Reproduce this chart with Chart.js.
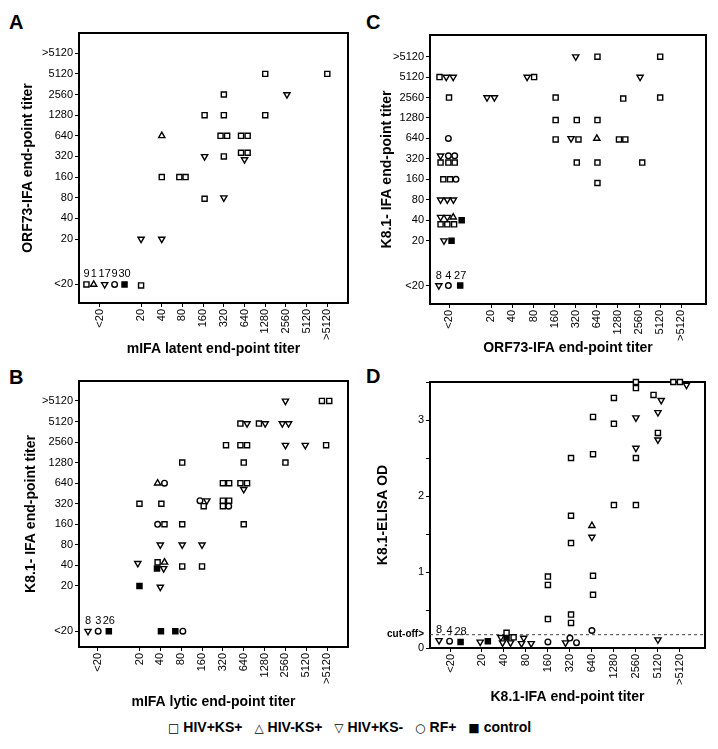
<!DOCTYPE html>
<html>
<head>
<meta charset="utf-8">
<script src="https://cdn.jsdelivr.net/npm/chart.js@4.4.0/dist/chart.umd.min.js"></script>
<style>
  body { margin: 0; background: #fff; width: 718px; height: 749px; position: relative; overflow: hidden;
         font-family: "Liberation Sans", Arial, sans-serif; color: #000; }
  canvas { position: absolute; }
  .tag { position: absolute; font-weight: bold; font-size: 20px; line-height: 20px; }
  #legend { position: absolute; left: 168px; top: 719px; font-weight: bold; font-size: 14px; line-height: 16px; white-space: nowrap; }
  #legend span.item { margin-right: 8px; }
  #legend span.sym { font-weight: normal; font-size: 12px; font-family: "DejaVu Sans", sans-serif; margin-right: 4px; }
</style>
</head>
<body>
<div class="tag" style="left:9px;top:12px">A</div>
<div class="tag" style="left:366px;top:12px">C</div>
<div class="tag" style="left:9px;top:367px">B</div>
<div class="tag" style="left:366px;top:366px">D</div>

<canvas id="panelA" width="359" height="362" style="left:0;top:0"></canvas>
<canvas id="panelC" width="359" height="362" style="left:359px;top:0"></canvas>
<canvas id="panelB" width="359" height="353" style="left:0;top:362px"></canvas>
<canvas id="panelD" width="359" height="353" style="left:359px;top:362px"></canvas>

<div id="legend"><span class="item"><span class="sym">□</span>HIV+KS+</span> <span class="item"><span class="sym">△</span>HIV-KS+</span> <span class="item"><span class="sym">▽</span>HIV+KS-</span> <span class="item"><span class="sym">○</span>RF+</span> <span class="item"><span class="sym">■</span>control</span></div>

<script>
// titer levels used on every titer axis
const titers = ['<20', '20', '40', '80', '160', '320', '640', '1280', '2560', '5120', '>5120'];

// rows: [x titer, y titer, x jitter, y jitter, count label]
// A: mIFA latent (x) vs ORF73-IFA (y)
const aHivKsPos = [
  ['<20', '<20', -0.64, 0, 9], ['20', '<20', 0, -0.05], ['40', '160', 0, 0],
  ['80', '160', -0.15, 0], ['80', '160', 0.15, 0],
  ['160', '1280', 0.07, 0], ['160', '80', 0.07, -0.05],
  ['320', '2560', 0, 0], ['320', '1280', 0, 0], ['320', '640', -0.16, 0], ['320', '640', 0.16, 0], ['320', '320', 0, 0],
  ['640', '640', -0.17, 0], ['640', '640', 0.15, 0], ['640', '320', -0.17, 0.18], ['640', '320', 0.15, 0.18],
  ['1280', '5120', 0, 0], ['1280', '1280', 0, 0], ['>5120', '5120', 0, 0]
];
const aHivNegKsPos = [['<20', '<20', -0.29, 0, 1], ['40', '640', 0, 0]];
const aHivKsNeg = [
  ['<20', '<20', 0.24, 0, 17], ['20', '20', 0, 0], ['40', '20', 0, 0], ['160', '320', 0.07, 0],
  ['320', '80', 0, 0], ['640', '320', 0, -0.15], ['2560', '2560', 0.05, 0]
];
const aRfPos = [['<20', '<20', 0.72, 0, 9]];
const aControl = [['<20', '<20', 1.2, 0, 30]];

// B: mIFA lytic (x) vs K8.1-IFA (y)
const bHivKsPos = [
  ['20', '320', 0, 0], ['40', '320', 0.05, 0], ['40', '160', 0.2, 0], ['40', '40', -0.13, 0.15],
  ['80', '1280', 0.05, 0], ['80', '160', 0.05, 0], ['80', '40', 0.05, -0.05],
  ['160', '320', 0.08, -0.12], ['160', '40', 0, -0.05],
  ['320', '2560', 0.15, -0.15], ['320', '640', 0, 0], ['320', '640', 0.3, 0],
  ['320', '320', 0, 0.15], ['320', '320', 0.3, 0.15], ['320', '320', 0, -0.12],
  ['640', '5120', -0.16, -0.1], ['640', '2560', -0.16, -0.15], ['640', '2560', 0.16, -0.15],
  ['640', '1280', 0, 0], ['640', '640', -0.16, 0], ['640', '640', 0.16, 0], ['640', '160', 0, 0],
  ['1280', '5120', -0.27, -0.1], ['2560', '1280', 0, 0],
  ['>5120', '>5120', -0.25, 0], ['>5120', '>5120', 0.1, 0], ['>5120', '2560', -0.05, -0.15]
];
const bHivNegKsPos = [['40', '640', -0.13, 0], ['40', '40', 0.2, 0.15]];
const bHivKsNeg = [
  ['<20', '<20', -0.47, 0, 8], ['20', '40', -0.08, 0.1],
  ['40', '80', 0, 0], ['40', '40', 0.16, -0.15], ['40', '20', 0, -0.05],
  ['80', '80', 0.05, 0], ['160', '80', 0, 0], ['160', '320', 0.23, 0.15],
  ['640', '640', 0, -0.3], ['640', '5120', 0.16, -0.1], ['1280', '5120', 0.03, -0.1],
  ['2560', '>5120', 0, 0], ['2560', '5120', -0.15, -0.1], ['2560', '5120', 0.15, -0.1], ['2560', '2560', 0, -0.15],
  ['5120', '2560', -0.05, -0.15]
];
const bRfPos = [
  ['<20', '<20', 0.02, 0, 3], ['40', '640', 0.2, 0], ['40', '160', -0.13, 0],
  ['80', '<20', 0.08, 0], ['160', '320', -0.1, 0.15], ['320', '320', 0.28, -0.12]
];
const bControl = [
  ['<20', '<20', 0.53, 0, 26], ['20', '20', 0, 0], ['40', '40', -0.16, -0.15],
  ['40', '<20', 0.03, 0], ['80', '<20', -0.28, 0]
];

// C: ORF73-IFA (x) vs K8.1-IFA (y)
const cHivKsPos = [
  ['<20', '5120', -0.45, 0], ['<20', '2560', 0, 0],
  ['<20', '320', -0.4, -0.18], ['<20', '320', -0.03, -0.18], ['<20', '320', 0.27, -0.18],
  ['<20', '160', -0.27, 0], ['<20', '160', 0.05, 0],
  ['<20', '40', -0.4, -0.2], ['<20', '40', -0.08, -0.2], ['<20', '40', 0.24, -0.2],
  ['80', '5120', 0.03, 0],
  ['160', '2560', 0.05, 0], ['160', '1280', 0.05, -0.1], ['160', '640', 0.05, -0.05],
  ['320', '1280', 0.05, -0.1], ['320', '640', 0.13, -0.05], ['320', '320', 0.05, -0.18],
  ['640', '>5120', 0.03, 0], ['640', '1280', 0.03, -0.1], ['640', '320', 0.03, -0.18], ['640', '160', 0.03, -0.18],
  ['1280', '2560', 0.25, -0.05], ['1280', '640', 0.05, -0.05], ['1280', '640', 0.35, -0.05],
  ['2560', '320', 0.15, -0.18], ['5120', '>5120', 0, 0], ['5120', '2560', 0, 0]
];
const cHivNegKsPos = [['<20', '40', 0.2, 0.15], ['640', '640', 0, 0]];
const cHivKsNeg = [
  ['<20', '5120', -0.13, 0], ['<20', '5120', 0.2, 0], ['<20', '320', -0.4, 0.15],
  ['<20', '80', -0.4, 0], ['<20', '80', -0.08, 0], ['<20', '80', 0.21, 0],
  ['<20', '40', -0.4, 0.15], ['<20', '40', -0.08, 0.15], ['<20', '20', -0.24, 0],
  ['<20', '<20', -0.48, 0, 8],
  ['20', '2560', -0.2, 0], ['20', '2560', 0.15, 0], ['80', '5120', -0.3, 0],
  ['320', '>5120', 0, 0], ['320', '640', -0.22, 0], ['2560', '5120', 0.05, 0]
];
const cRfPos = [
  ['<20', '<20', -0.03, 0, 4], ['<20', '640', -0.03, 0],
  ['<20', '320', -0.03, 0.15], ['<20', '320', 0.27, 0.15], ['<20', '160', 0.33, 0]
];
const cControl = [['<20', '<20', 0.53, 0, 27], ['<20', '40', 0.6, 0], ['<20', '20', 0.12, 0]];

// D: K8.1-IFA titer (x) vs K8.1-ELISA OD (y); rows: [x titer, OD, x jitter, count label]
const dHivKsPos = [
  ['40', 0.2, 0.12], ['40', 0.14, 0.44],
  ['160', 0.94, 0], ['160', 0.83, 0], ['160', 0.38, 0],
  ['320', 2.5, 0.05], ['320', 1.74, 0.05], ['320', 1.38, 0.05], ['320', 0.44, 0.05], ['320', 0.33, 0.05],
  ['640', 3.04, 0.05], ['640', 2.55, 0.05], ['640', 0.95, 0.05], ['640', 0.7, 0.05],
  ['1280', 3.29, 0], ['1280', 2.95, 0], ['1280', 1.88, 0],
  ['2560', 3.5, 0], ['2560', 3.42, 0], ['2560', 2.5, 0], ['2560', 1.88, 0],
  ['5120', 3.33, -0.2], ['5120', 2.83, 0],
  ['>5120', 3.5, -0.3], ['>5120', 3.5, 0]
];
const dHivNegKsPos = [['640', 1.61, 0]];
const dHivKsNeg = [
  ['<20', 0.1, -0.53, 8], ['20', 0.08, -0.08],
  ['40', 0.14, -0.14], ['40', 0.07, -0.06], ['40', 0.07, 0.3],
  ['80', 0.13, -0.1], ['80', 0.06, -0.2], ['80', 0.06, 0.24],
  ['320', 0.07, -0.2], ['640', 1.46, 0],
  ['2560', 3.03, 0], ['2560', 2.63, 0],
  ['5120', 3.26, 0.15], ['5120', 3.1, 0], ['5120', 2.74, 0], ['5120', 0.11, 0],
  ['>5120', 3.46, 0.3]
];
const dRfPos = [['<20', 0.09, -0.05, 4], ['160', 0.08, 0], ['320', 0.13, 0], ['320', 0.07, 0.3], ['640', 0.23, 0]];
const dControl = [['<20', 0.08, 0.45, 28], ['20', 0.09, 0.27], ['40', 0.14, 0.12]];

const cutoffOD = 0.175;
const odTicks = [0, cutoffOD, 0.5, 1, 1.5, 2, 2.5, 3, 3.5];
const odLabels = ['0', 'cut-off>', '', '1', '', '2', '', '3', ''];

// ---------------------------------------------------------------
Chart.defaults.font.family = '"Liberation Sans", Arial, sans-serif';
Chart.defaults.color = '#000';

const groupStyles = [
  { label: 'HIV+KS+', pointStyle: 'rect', pointRadius: 3.6, pointRotation: 0, pointBackgroundColor: '#fff' },
  { label: 'HIV-KS+', pointStyle: 'triangle', pointRadius: 3.6, pointRotation: 0, pointBackgroundColor: '#fff' },
  { label: 'HIV+KS-', pointStyle: 'triangle', pointRadius: 3.6, pointRotation: 180, pointBackgroundColor: '#fff' },
  { label: 'RF+', pointStyle: 'circle', pointRadius: 2.8, pointRotation: 0, pointBackgroundColor: '#fff' },
  { label: 'control', pointStyle: 'rect', pointRadius: 3.6, pointRotation: 0, pointBackgroundColor: '#000' }
];

// positions of titer levels on the axes (the "<20" column sits apart)
const titerX = (t) => t === '<20' ? 0 : titers.indexOf(t) + 1;
const titerY = (t) => t === '<20' ? 0 : titers.indexOf(t) + 1.2;
const titerXD = (t) => t === '<20' ? 0.58 : titers.indexOf(t) + 1;

function titerPoints(rows) {
  return rows.map(r => ({ x: titerX(r[0]) + r[2], y: titerY(r[1]) + r[3], n: r[4] }));
}
function odPoints(rows) {
  return rows.map(r => ({ x: titerXD(r[0]) + r[2], y: r[1], n: r[3] }));
}

function makeDatasets(groups, toPoints) {
  return groups.map((rows, i) => Object.assign({
    data: toPoints(rows),
    pointBorderColor: '#000',
    pointBorderWidth: 1.4,
    showLine: false,
    clip: false
  }, groupStyles[i]));
}

const framePlugin = {
  id: 'frame',
  beforeDatasetsDraw(chart) {
    const { ctx, chartArea: a } = chart;
    ctx.save();
    ctx.lineWidth = 2;
    ctx.strokeStyle = '#000';
    ctx.strokeRect(a.left, a.top, a.right - a.left, a.bottom - a.top);
    ctx.restore();
  }
};

const countPlugin = {
  id: 'counts',
  afterDatasetsDraw(chart) {
    const ctx = chart.ctx;
    ctx.save();
    ctx.font = '11px "Liberation Sans", Arial, sans-serif';
    ctx.fillStyle = '#000';
    ctx.textAlign = 'center';
    ctx.textBaseline = 'middle';
    chart.data.datasets.forEach((ds, i) => {
      const meta = chart.getDatasetMeta(i);
      ds.data.forEach((p, j) => {
        if (p.n) ctx.fillText(String(p.n), meta.data[j].x, meta.data[j].y - 10);
      });
    });
    ctx.restore();
  }
};

const gridOpts = { drawOnChartArea: false, drawTicks: true, tickLength: 4, color: '#000', lineWidth: 1 };
const titleFont = { size: 14, weight: 'bold' };

function axis(o) {
  return {
    type: 'linear',
    min: o.min,
    max: o.max,
    afterBuildTicks: (s) => { s.ticks = o.ticks.map(v => ({ value: v })); },
    afterFit: (s) => { if (o.width) s.width = o.width; if (o.height) s.height = o.height; },
    ticks: {
      autoSkip: false,
      minRotation: o.rotate || 0,
      maxRotation: o.rotate || 0,
      padding: 2,
      color: '#000',
      font: o.font || { size: 11 },
      callback: (v, i) => o.labels[i]
    },
    grid: Object.assign({}, gridOpts, o.grid || {}),
    border: { display: false },
    title: { display: true, text: o.title, font: titleFont, color: '#000', padding: 0 }
  };
}

function makePanel(id, datasets, pad, xAxis, yAxis) {
  new Chart(document.getElementById(id), {
    type: 'scatter',
    data: { datasets: datasets },
    options: {
      responsive: false,
      devicePixelRatio: 1,
      animation: false,
      events: [],
      layout: { padding: pad },
      plugins: { legend: { display: false }, tooltip: { enabled: false } },
      scales: { x: xAxis, y: yAxis }
    },
    plugins: [framePlugin, countPlugin]
  });
}

const xTiterTicks = titers.map(titerX);
const yTiterTicks = titers.map(titerY);

makePanel('panelA',
  makeDatasets([aHivKsPos, aHivNegKsPos, aHivKsNeg, aRfPos, aControl], titerPoints),
  { left: 20, top: 33, right: 11, bottom: 4 },
  axis({ min: -1, max: 12, ticks: xTiterTicks, labels: titers, rotate: 90, height: 55, title: 'mIFA latent end-point titer' }),
  axis({ min: -0.9, max: 12.18, ticks: yTiterTicks, labels: titers, width: 59, title: 'ORF73-IFA end-point titer' })
);

makePanel('panelB',
  makeDatasets([bHivKsPos, bHivNegKsPos, bHivKsNeg, bRfPos, bControl], titerPoints),
  { left: 23, top: 19, right: 11, bottom: 4 },
  axis({ min: -0.9, max: 12, ticks: xTiterTicks, labels: titers, rotate: 90, height: 64, title: 'mIFA lytic end-point titer' }),
  axis({ min: -0.77, max: 12.17, ticks: yTiterTicks, labels: titers, width: 56, title: 'K8.1- IFA end-point titer' })
);

makePanel('panelC',
  makeDatasets([cHivKsPos, cHivNegKsPos, cHivKsNeg, cRfPos, cControl], titerPoints),
  { left: 20, top: 35, right: 12, bottom: 5 },
  axis({ min: -0.9, max: 12.17, ticks: xTiterTicks, labels: titers, rotate: 90, height: 53, title: 'ORF73-IFA end-point titer' }),
  axis({ min: -0.9, max: 12.26, ticks: yTiterTicks, labels: titers, width: 51, title: 'K8.1- IFA end-point titer' })
);

const dDatasets = makeDatasets([dHivKsPos, dHivNegKsPos, dHivKsNeg, dRfPos, dControl], odPoints);
dDatasets.push({
  label: 'cut-off',
  data: [{ x: -0.36, y: cutoffOD }, { x: 12.14, y: cutoffOD }],
  showLine: true,
  borderColor: '#444',
  borderWidth: 1,
  borderDash: [3, 3],
  pointRadius: 0
});

makePanel('panelD', dDatasets,
  { left: 16, top: 20, right: 13, bottom: 9 },
  axis({ min: -0.36, max: 12.14, ticks: titers.map(titerXD), labels: titers, rotate: 90, height: 58, title: 'K8.1-IFA end-point titer' }),
  axis({
    min: 0, max: 3.5, ticks: odTicks, labels: odLabels, width: 55, title: 'K8.1-ELISA OD',
    font: (c) => c.index === 1 ? { size: 10, weight: 'bold' } : { size: 11 },
    grid: { color: (c) => (c.tick && c.tick.value === cutoffOD) ? 'rgba(0,0,0,0)' : '#000' }
  })
);
</script>
</body>
</html>
